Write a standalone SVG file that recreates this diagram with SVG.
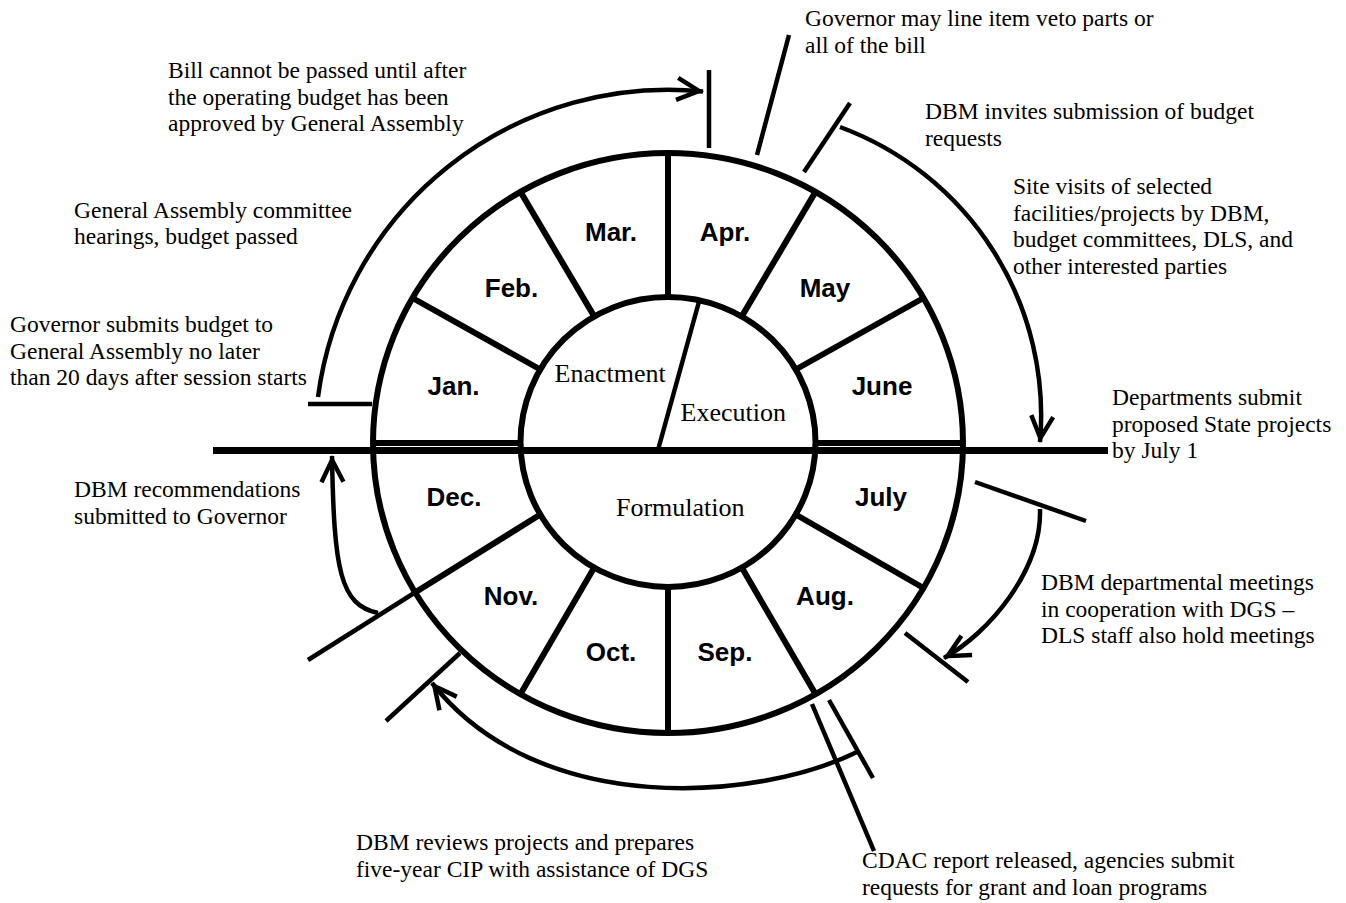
<svg xmlns="http://www.w3.org/2000/svg" width="1346" height="903" viewBox="0 0 1346 903">
<defs>
<style>
.ring{fill:none;stroke:#000;stroke-width:6}
.dv{stroke:#000;stroke-width:6}
.ann{fill:none;stroke:#000;stroke-width:4.5}
.mon{font-family:"Liberation Sans",Arial,sans-serif;font-weight:bold;font-size:26px;text-anchor:middle;fill:#000}
.ph{font-family:"Liberation Serif","Times New Roman",serif;font-size:26px;fill:#000}
.note{font-family:"Liberation Serif","Times New Roman",serif;font-size:23.5px;fill:#000}
</style>
<marker id="ah" markerUnits="userSpaceOnUse" viewBox="-30 -16 34 32" markerWidth="34" markerHeight="32" refX="0" refY="0" orient="auto">
<path d="M1,0 L-25,-13 L-27,-9 L-9,0 L-27,9 L-25,13 Z" fill="#000"/>
</marker>
</defs>
<rect width="1346" height="903" fill="#fff"/>

<g id="wheel">
<ellipse class="ring" cx="668" cy="443" rx="295" ry="290"/>
<ellipse class="ring" cx="668" cy="442" rx="147.5" ry="145"/>
<line class="dv" x1="668" y1="297" x2="668" y2="153"/>
<line class="dv" x1="741.75" y1="316.4" x2="815.5" y2="191.9"/>
<line class="dv" x1="795.7" y1="369.5" x2="923.5" y2="298"/>
<line class="dv" x1="594.25" y1="316.4" x2="520.5" y2="191.9"/>
<line class="dv" x1="540.3" y1="369.5" x2="412.5" y2="298"/>
<line class="dv" x1="668" y1="587" x2="668" y2="733"/>
<line class="dv" x1="741.75" y1="567.6" x2="815.5" y2="694.1"/>
<line class="dv" x1="795.7" y1="514.5" x2="923.5" y2="588"/>
<line class="dv" x1="594.25" y1="567.6" x2="520.5" y2="694.1"/>
<line class="dv" x1="540.3" y1="514.5" x2="415" y2="592.5"/>
<line class="dv" x1="373" y1="443" x2="520" y2="443"/>
<line class="dv" x1="815" y1="443" x2="962" y2="443"/>
<line x1="700" y1="298" x2="658" y2="450" stroke="#000" stroke-width="4.5"/>
</g>

<g id="months">
<text class="mon" x="611" y="241">Mar.</text>
<text class="mon" x="725" y="241">Apr.</text>
<text class="mon" x="511.5" y="296.5">Feb.</text>
<text class="mon" x="825" y="296.5">May</text>
<text class="mon" x="453.5" y="394.5">Jan.</text>
<text class="mon" x="882" y="394.5">June</text>
<text class="mon" x="454" y="506">Dec.</text>
<text class="mon" x="881" y="506">July</text>
<text class="mon" x="511" y="605">Nov.</text>
<text class="mon" x="825" y="605">Aug.</text>
<text class="mon" x="611" y="661">Oct.</text>
<text class="mon" x="725" y="661">Sep.</text>
</g>

<g id="phases">
<text class="ph" x="554.5" y="382">Enactment</text>
<text class="ph" x="680.5" y="421">Execution</text>
<text class="ph" x="616" y="516">Formulation</text>
</g>

<g id="connectors">
<line x1="213" y1="450.5" x2="1108" y2="450.5" stroke="#000" stroke-width="7"/>
<path class="ann" d="M318,397 A353,353 0 0 1 703,91.5" marker-end="url(#ah)"/>
<line class="ann" x1="709" y1="70" x2="709" y2="148"/>
<line class="ann" x1="308" y1="404" x2="372" y2="404"/>
<line class="ann" x1="757" y1="155" x2="789" y2="35"/>
<line class="ann" x1="850" y1="103" x2="804" y2="172"/>
<path class="ann" d="M840,127 A307.5,307.5 0 0 1 1040,442" marker-end="url(#ah)"/>
<line class="ann" x1="975" y1="482" x2="1086" y2="521"/>
<path class="ann" d="M1040,509 C1042,570 989,633 944,658" marker-end="url(#ah)"/>
<line class="ann" x1="905" y1="633" x2="968" y2="682"/>
<path class="ann" d="M378,613 C340,605 334,570 332,456" marker-end="url(#ah)"/>
<line class="ann" x1="415" y1="592.5" x2="308" y2="660"/>
<line class="ann" x1="386" y1="721" x2="460" y2="653"/>
<path class="ann" d="M857,752 C760,800 540,820 432,683" marker-end="url(#ah)"/>
<line class="ann" x1="829" y1="700" x2="873" y2="778"/>
<line class="ann" x1="812" y1="704" x2="874" y2="851"/>
</g>

<g id="note-bill">
<text class="note" x="168" y="78">Bill cannot be passed until after</text>
<text class="note" x="168" y="104.7">the operating budget has been</text>
<text class="note" x="168" y="131.4">approved by General Assembly</text>
</g>
<g id="note-hearings">
<text class="note" x="74" y="217.5">General Assembly committee</text>
<text class="note" x="74" y="244">hearings, budget passed</text>
</g>
<g id="note-submits">
<text class="note" x="10" y="332">Governor submits budget to</text>
<text class="note" x="10" y="358.5">General Assembly no later</text>
<text class="note" x="10" y="385">than 20 days after session starts</text>
</g>
<g id="note-recommend">
<text class="note" x="74" y="497">DBM recommendations</text>
<text class="note" x="74" y="523.5">submitted to Governor</text>
</g>
<g id="note-veto">
<text class="note" x="805" y="26">Governor may line item veto parts or</text>
<text class="note" x="805" y="52.5">all of the bill</text>
</g>
<g id="note-invites">
<text class="note" x="925" y="119">DBM invites submission of budget</text>
<text class="note" x="925" y="145.5">requests</text>
</g>
<g id="note-visits">
<text class="note" x="1013" y="194">Site visits of selected</text>
<text class="note" x="1013" y="220.5">facilities/projects by DBM,</text>
<text class="note" x="1013" y="247">budget committees, DLS, and</text>
<text class="note" x="1013" y="273.5">other interested parties</text>
</g>
<g id="note-departments">
<text class="note" x="1112" y="405">Departments submit</text>
<text class="note" x="1112" y="431.5">proposed State projects</text>
<text class="note" x="1112" y="458">by July 1</text>
</g>
<g id="note-meetings">
<text class="note" x="1041" y="590">DBM departmental meetings</text>
<text class="note" x="1041" y="616.5">in cooperation with DGS –</text>
<text class="note" x="1041" y="643">DLS staff also hold meetings</text>
</g>
<g id="note-cip">
<text class="note" x="356" y="850">DBM reviews projects and prepares</text>
<text class="note" x="356" y="876.5">five-year CIP with assistance of DGS</text>
</g>
<g id="note-cdac">
<text class="note" x="862" y="868">CDAC report released, agencies submit</text>
<text class="note" x="862" y="894.5">requests for grant and loan programs</text>
</g>
</svg>
